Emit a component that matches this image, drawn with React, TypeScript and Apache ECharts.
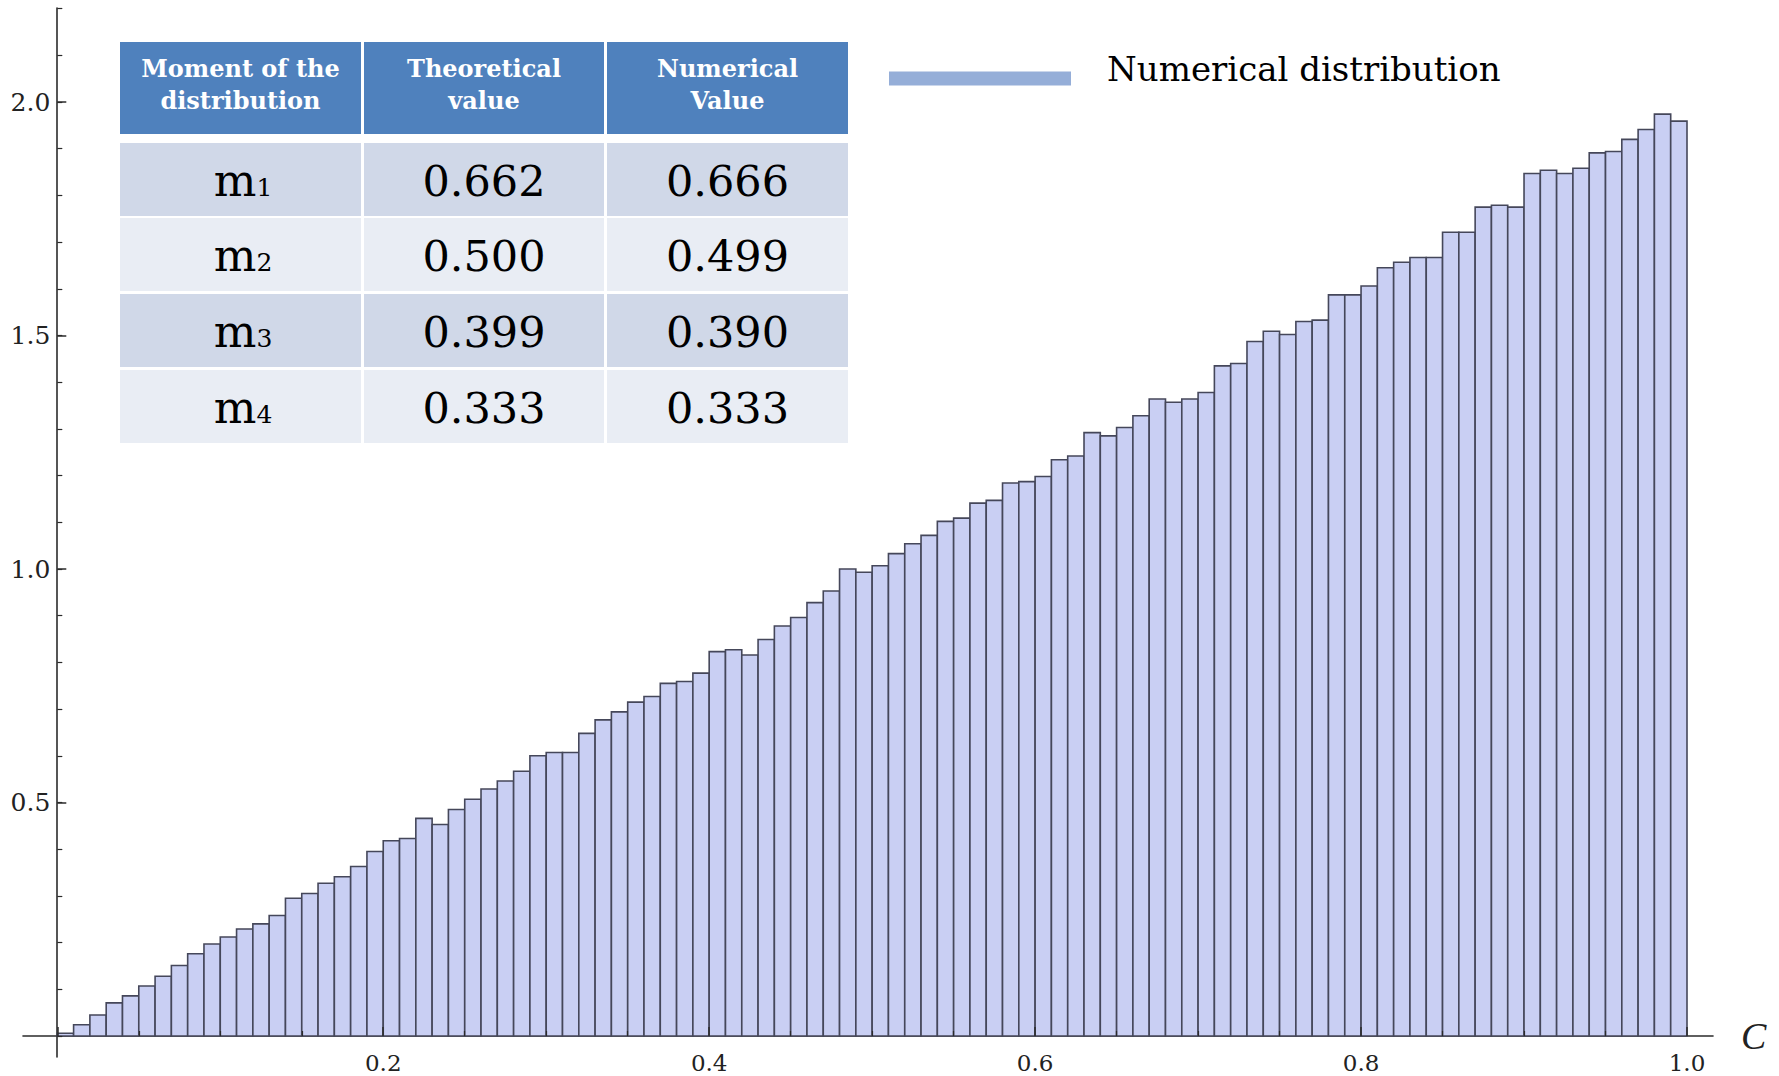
import React, { useEffect, useRef } from 'react';
import * as echarts from 'echarts';

// ---- data ----
const binWidth = 0.01;
const binValues = [
  0.006, 0.024, 0.045, 0.071, 0.086, 0.107, 0.128, 0.151, 0.176, 0.197,
  0.212, 0.229, 0.240, 0.258, 0.295, 0.305, 0.327, 0.341, 0.363, 0.395,
  0.418, 0.423, 0.466, 0.453, 0.485, 0.507, 0.529, 0.546, 0.567, 0.600,
  0.607, 0.607, 0.648, 0.677, 0.694, 0.715, 0.727, 0.755, 0.759, 0.777,
  0.823, 0.827, 0.816, 0.849, 0.878, 0.896, 0.928, 0.953, 1.000, 0.993,
  1.007, 1.033, 1.054, 1.072, 1.102, 1.109, 1.141, 1.147, 1.184, 1.187,
  1.198, 1.234, 1.242, 1.292, 1.285, 1.303, 1.328, 1.364, 1.357, 1.364,
  1.378, 1.435, 1.440, 1.487, 1.509, 1.502, 1.530, 1.533, 1.587, 1.587,
  1.606, 1.645, 1.657, 1.667, 1.667, 1.721, 1.721, 1.775, 1.779, 1.775,
  1.847, 1.854, 1.847, 1.858, 1.891, 1.894, 1.920, 1.941, 1.974, 1.959,
];
const seriesName = 'Numerical distribution';
const xAxisName = 'C';

const headerTexts = [
  ['Moment of the', 'distribution'],
  ['Theoretical', 'value'],
  ['Numerical', 'Value'],
];
const momentSymbols = ['m', 'm', 'm', 'm'];
const momentOrders = ['1', '2', '3', '4'];
const theoreticalValues = ['0.662', '0.500', '0.399', '0.333'];
const numericalValues = ['0.666', '0.499', '0.390', '0.333'];

// ---- styles / layout ----
const FONT = '"DejaVu Serif", serif';
const AXIS_COLOR = '#2b2b2b';
const BAR_FILL = '#c9cff3';
const BAR_EDGE = '#45475a';
const LEGEND_COLOR = '#95aed8';
const HEADER_FILL = '#4f81bd';
const ROW_FILLS = ['#d0d8e8', '#e9edf4', '#d0d8e8', '#e9edf4'];

const W = 1779;
const H = 1076;
const Y0 = 1036; // pixel of y=0
const PXU = 467; // pixels per y unit
const X0 = 57.3;
const X1 = 1687;

const colX = [120, 364, 607];
const colW = [241, 240, 241];
const headerY = 42;
const headerH = 92;
const rowY = [143, 218, 294, 370];
const rowH = 73;

// legend icon: invisible zero-area strip on top keeps the bar below the text's middle
const legendIcon = 'path://M0,0L182,0L182,0.01L0,0.01Z M0,18.8L182,18.8L182,32.8L0,32.8Z';

function buildTable(): any[] {
  const els: any[] = [];
  colX.forEach((x, c) => {
    els.push({
      type: 'rect',
      shape: { x, y: headerY, width: colW[c], height: headerH },
      style: { fill: HEADER_FILL },
      z: 100,
    });
    headerTexts[c].forEach((line, k) => {
      els.push({
        type: 'text',
        x: x + colW[c] / 2,
        y: headerY + 26 + k * 32,
        style: {
          text: line,
          fill: '#ffffff',
          font: `bold 24px ${FONT}`,
          align: 'center',
          verticalAlign: 'middle',
        },
        z: 101,
      });
    });
  });
  rowY.forEach((y, r) => {
    colX.forEach((x, c) => {
      els.push({
        type: 'rect',
        shape: { x, y, width: colW[c], height: rowH },
        style: { fill: ROW_FILLS[r] },
        z: 100,
      });
    });
    const cy = y + rowH / 2;
    const c0 = colX[0] + colW[0] / 2;
    els.push({
      type: 'text',
      x: c0 + 16,
      y: cy + 1,
      style: { text: momentSymbols[r], fill: '#000', font: `45px ${FONT}`, align: 'right', verticalAlign: 'middle' },
      z: 101,
    });
    els.push({
      type: 'text',
      x: c0 + 16,
      y: cy + 8,
      style: { text: momentOrders[r], fill: '#000', font: `25px ${FONT}`, align: 'left', verticalAlign: 'middle' },
      z: 101,
    });
    [theoreticalValues[r], numericalValues[r]].forEach((t, k) => {
      els.push({
        type: 'text',
        x: colX[k + 1] + colW[k + 1] / 2,
        y: cy + 1,
        style: { text: t, fill: '#000', font: `43px ${FONT}`, align: 'center', verticalAlign: 'middle' },
        z: 101,
      });
    });
  });
  return els;
}

const hiddenAxis = {
  show: false,
  axisLine: { show: false },
  axisTick: { show: false },
  axisLabel: { show: false },
  splitLine: { show: false },
};

export default function App() {
  const ref = useRef<HTMLDivElement>(null);
  useEffect(() => {
    if (!ref.current) return;
    const chart = echarts.init(ref.current, undefined, { renderer: 'svg' });
    const option: any = {
      animation: false,
      backgroundColor: '#ffffff',
      grid: [
        // data grid (0..1 x 0..2.2)
        { left: X0, right: W - X1, top: Y0 - 2.2 * PXU, bottom: H - Y0 },
        // extended axis lines
        { left: 23, right: W - 1713, top: 8, bottom: H - 1057 },
        // major y ticks (0..2.0)
        { left: X0, right: W - X1, top: Y0 - 2.0 * PXU, bottom: H - Y0 },
      ],
      legend: {
        left: 889,
        top: 52,
        padding: 0,
        selectedMode: false,
        itemWidth: 182,
        itemHeight: 32.8,
        data: [{ name: seriesName, icon: legendIcon, itemStyle: { color: LEGEND_COLOR, borderWidth: 0 } }],
        textStyle: { fontFamily: FONT, fontSize: 34, color: '#000', padding: [0, 0, 0, 31] },
      },
      xAxis: [
        {
          gridIndex: 0,
          type: 'value',
          min: 0,
          max: 1,
          interval: 0.2,
          z: 5,
          axisLine: { show: false },
          axisTick: { show: true, inside: true, length: 9, lineStyle: { color: AXIS_COLOR, width: 1.5 } },
          minorTick: { show: true, splitNumber: 4, length: 5, lineStyle: { color: AXIS_COLOR, width: 1.2 } },
          splitLine: { show: false },
          minorSplitLine: { show: false },
          axisLabel: {
            show: true,
            margin: 15,
            showMinLabel: false,
            formatter: (v: number) => (v === 0 ? '' : v.toFixed(1)),
            fontFamily: FONT,
            fontSize: 23,
            color: '#222',
          },
        },
        {
          gridIndex: 1,
          type: 'value',
          min: -0.021,
          max: 1.0157,
          axisLine: { show: true, onZero: true, lineStyle: { color: AXIS_COLOR, width: 1.6 } },
          axisTick: { show: false },
          axisLabel: { show: false },
          splitLine: { show: false },
          name: xAxisName,
          nameLocation: 'end',
          nameGap: 28,
          nameTextStyle: {
            fontFamily: '"Liberation Serif", serif',
            fontStyle: 'italic',
            fontSize: 38,
            color: '#222',
            verticalAlign: 'middle',
          },
        },
        { gridIndex: 2, type: 'value', min: 0, max: 1, ...hiddenAxis },
      ],
      yAxis: [
        {
          // minor y ticks every 0.1
          gridIndex: 0,
          type: 'value',
          min: 0,
          max: 2.2,
          interval: 0.1,
          z: 5,
          axisLine: { show: false },
          axisTick: { show: true, inside: true, length: 5, lineStyle: { color: AXIS_COLOR, width: 1.2 } },
          splitLine: { show: false },
          axisLabel: { show: false },
        },
        {
          gridIndex: 1,
          type: 'value',
          min: -0.045,
          max: 2.2,
          axisLine: { show: true, onZero: true, lineStyle: { color: AXIS_COLOR, width: 1.6 } },
          axisTick: { show: false },
          axisLabel: { show: false },
          splitLine: { show: false },
        },
        {
          // major y ticks + labels
          gridIndex: 2,
          type: 'value',
          min: 0,
          max: 2.0,
          interval: 0.5,
          z: 5,
          axisLine: { show: false },
          axisTick: { show: true, inside: true, length: 9, lineStyle: { color: AXIS_COLOR, width: 1.5 } },
          splitLine: { show: false },
          axisLabel: {
            show: true,
            margin: 7,
            showMinLabel: false,
            formatter: (v: number) => (v === 0 ? '' : v.toFixed(1)),
            fontFamily: FONT,
            fontSize: 25,
            color: '#222',
          },
        },
      ],
      series: [
        {
          type: 'custom',
          name: seriesName,
          xAxisIndex: 0,
          yAxisIndex: 0,
          data: binValues.map((v, i) => [i * binWidth, (i + 1) * binWidth, v]),
          encode: { x: [0, 1], y: 2 },
          renderItem: (params: any, api: any) => {
            const p0 = api.coord([api.value(0), api.value(2)]);
            const p1 = api.coord([api.value(1), 0]);
            return {
              type: 'rect',
              shape: { x: p0[0], y: p0[1], width: p1[0] - p0[0], height: p1[1] - p0[1] },
              style: { fill: BAR_FILL, stroke: BAR_EDGE, lineWidth: 1.6 },
            };
          },
        },
      ],
      graphic: buildTable(),
    };
    chart.setOption(option);
    return () => chart.dispose();
  }, []);
  return (
    <div
      ref={ref}
      style={{ position: 'absolute', left: 0, top: 0, width: W, height: H, background: '#fff' }}
    />
  );
}
